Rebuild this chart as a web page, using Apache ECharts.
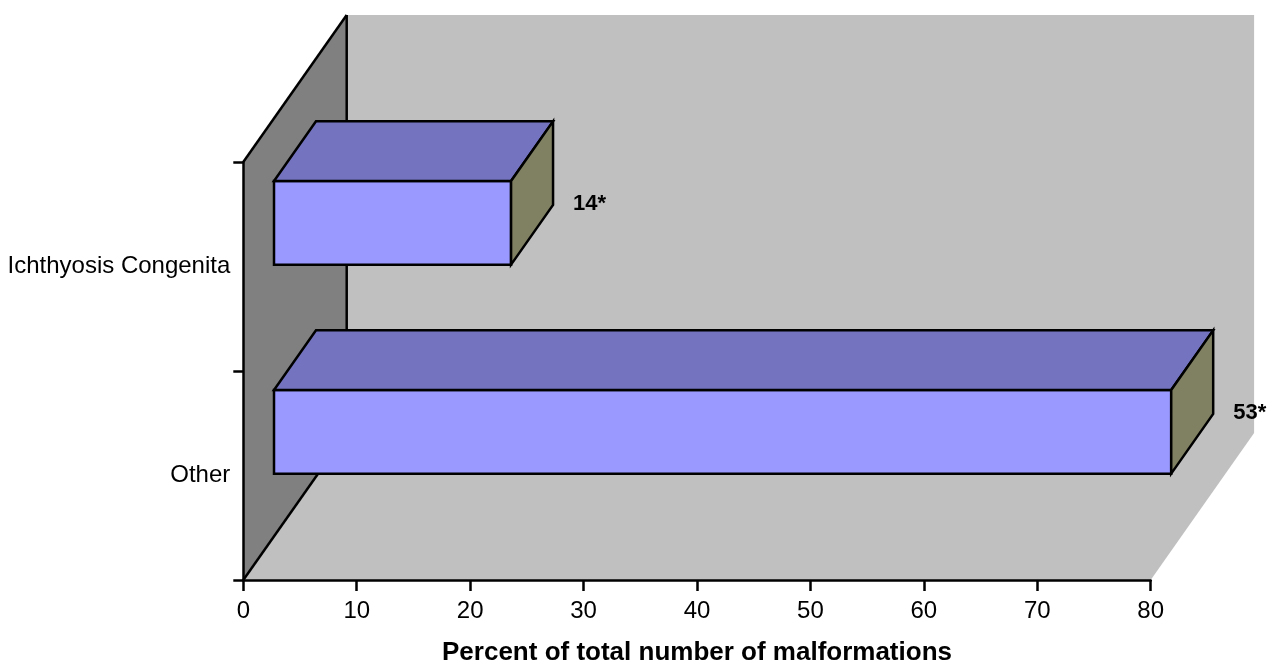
<!DOCTYPE html>
<html>
<head>
<meta charset="utf-8">
<script src="https://cdn.jsdelivr.net/npm/echarts@6/dist/echarts.min.js"></script>
<style>
html,body{margin:0;padding:0;background:#ffffff;}
#chart{width:1276px;height:671px;}
</style>
</head>
<body>
<div id="chart"></div>
<script>
// ---- data ----
const categories = ['Other', 'Ichthyosis Congenita'];
const percentValues = [79.1, 20.9];
const countLabels = ['53*', '14*'];
const xMin = 0, xMax = 80, xInterval = 10;
const axisTitle = 'Percent of total number of malformations';

// ---- layout / style constants ----
const FONT = '"Liberation Sans", Arial, Helvetica, sans-serif';
const DEPTH_X = 103.4, DEPTH_Y = -147;   // 3D depth vector (px)
const D0 = 0.297, D1 = 0.703;            // bar depth span (fraction of depth)
const BAR_FRAC = 0.40;                   // bar thickness as fraction of band
const LABEL_DX = 20, LABEL_DY = 11;

const chart = echarts.init(document.getElementById('chart'), null, {renderer: 'canvas'});

function renderWalls(params, api) {
  const cs = params.coordSys;
  const x = cs.x, y = cs.y, w = cs.width, h = cs.height;
  const line = {stroke: '#000', lineWidth: 2.5};
  return {
    type: 'group',
    children: [
      {type: 'polygon', shape: {points: [[x + DEPTH_X, y + DEPTH_Y], [x + w + DEPTH_X, y + DEPTH_Y], [x + w + DEPTH_X, y + h + DEPTH_Y], [x + DEPTH_X, y + h + DEPTH_Y]]}, style: {fill: '#C0C0C0'}},
      {type: 'polygon', shape: {points: [[x, y + h], [x + w, y + h], [x + w + DEPTH_X, y + h + DEPTH_Y], [x + DEPTH_X, y + h + DEPTH_Y]]}, style: {fill: '#C0C0C0'}},
      {type: 'polygon', shape: {points: [[x, y], [x + DEPTH_X, y + DEPTH_Y], [x + DEPTH_X, y + h + DEPTH_Y], [x, y + h]]}, style: {fill: '#808080'}},
      {type: 'line', shape: {x1: x, y1: y, x2: x + DEPTH_X, y2: y + DEPTH_Y}, style: line},
      {type: 'line', shape: {x1: x + DEPTH_X, y1: y + DEPTH_Y, x2: x + DEPTH_X, y2: y + h + DEPTH_Y}, style: line},
      {type: 'line', shape: {x1: x, y1: y + h, x2: x + DEPTH_X, y2: y + h + DEPTH_Y}, style: line}
    ]
  };
}

function renderBar(params, api) {
  const val = api.value(0);
  const cat = api.value(1);
  const p0 = api.coord([0, cat]);
  const p1 = api.coord([val, cat]);
  const band = params.coordSys.height / categories.length;
  const bh = band * BAR_FRAC;
  const fx = DEPTH_X * D0, fy = DEPTH_Y * D0;
  const bx = DEPTH_X * (D1 - D0), by = DEPTH_Y * (D1 - D0);
  const x0 = p0[0] + fx, x1 = p1[0] + fx;
  const yc = p0[1] + fy;
  const t = yc - bh / 2, b = yc + bh / 2;
  const edge = {stroke: '#000', lineWidth: 2.5, lineJoin: 'miter'};
  return {
    type: 'group',
    children: [
      {type: 'polygon', shape: {points: [[x0, t], [x1, t], [x1, b], [x0, b]]}, style: Object.assign({fill: '#9999FF'}, edge)},
      {type: 'polygon', shape: {points: [[x0, t], [x1, t], [x1 + bx, t + by], [x0 + bx, t + by]]}, style: Object.assign({fill: '#7373BF'}, edge)},
      {type: 'polygon', shape: {points: [[x1, t], [x1 + bx, t + by], [x1 + bx, b + by], [x1, b]]}, style: Object.assign({fill: '#808062'}, edge)},
      {type: 'text', style: {
        text: countLabels[params.dataIndex],
        x: x1 + bx + LABEL_DX,
        y: (t + b) / 2 + by / 2 + LABEL_DY,
        fill: '#000',
        font: 'bold 22px ' + FONT,
        align: 'left',
        verticalAlign: 'middle'
      }}
    ]
  };
}

const barData = percentValues.map((v, i) => [v, i]);

chart.setOption({
  animation: false,
  backgroundColor: '#ffffff',
  textStyle: {fontFamily: FONT},
  grid: {left: 243.3, right: 125.3, top: 162, bottom: 83, containLabel: false},
  xAxis: {
    type: 'value',
    min: xMin, max: xMax, interval: xInterval,
    z: 10,
    name: axisTitle,
    nameLocation: 'middle',
    nameGap: 60,
    nameTextStyle: {color: '#000', fontSize: 26, fontWeight: 'bold', fontFamily: FONT},
    axisLine: {show: true, lineStyle: {color: '#000', width: 2.5}},
    axisTick: {show: true, length: 11, lineStyle: {color: '#000', width: 2.5}},
    axisLabel: {color: '#000', fontSize: 24, margin: 19, fontFamily: FONT},
    splitLine: {show: false}
  },
  yAxis: {
    type: 'category',
    data: categories,
    z: 10,
    axisLine: {show: true, lineStyle: {color: '#000', width: 2.5}},
    axisTick: {show: true, length: 10, lineStyle: {color: '#000', width: 2.5}},
    axisLabel: {color: '#000', fontSize: 24, margin: 13, fontFamily: FONT},
    splitLine: {show: false}
  },
  series: [
    {type: 'custom', name: 'walls', z: 1, silent: true, clip: false, renderItem: renderWalls, data: [[0, 0]]},
    {type: 'custom', name: 'bars', z: 2, silent: true, clip: false, renderItem: renderBar, encode: {x: 0, y: 1}, data: barData}
  ]
});
</script>
</body>
</html>
